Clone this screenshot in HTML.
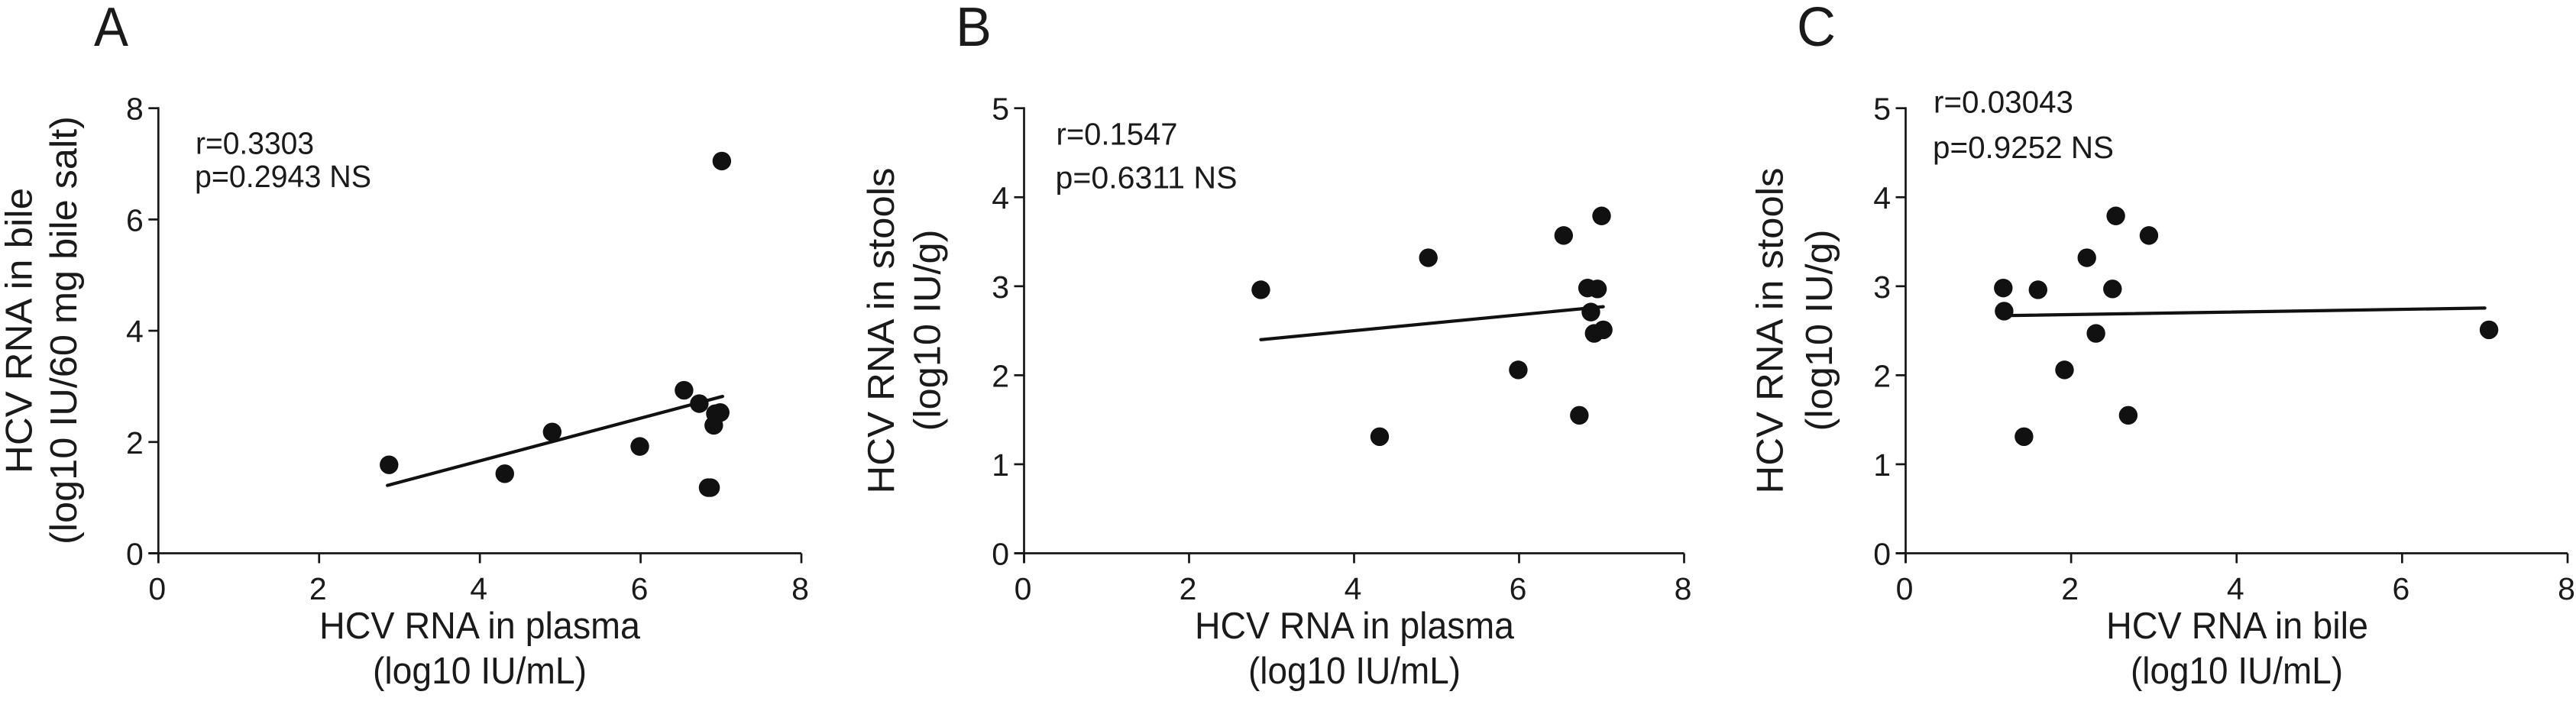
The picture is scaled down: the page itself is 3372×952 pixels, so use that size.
<!DOCTYPE html>
<html lang="en">
<head>
<meta charset="utf-8">
<title>HCV RNA correlations</title>
<style>
html,body{margin:0;padding:0;background:#fff;width:3372px;height:952px;overflow:hidden}
svg{display:block}
text{font-family:"Liberation Sans",Arial,sans-serif;fill:#1a1a1a}
.title{font-size:49px}
.stat{font-size:41px}
.letter{font-size:72px}
.tick{font-size:41px}
</style>
</head>
<body>
<svg id="figure" xmlns="http://www.w3.org/2000/svg" width="3372" height="952" viewBox="0 0 3372 952">
  <rect width="3372" height="952" fill="#ffffff"/>

  <g id="panel-a">
    <text class="letter" x="123" y="60" textLength="45" lengthAdjust="spacingAndGlyphs">A</text>
    <text class="title" transform="translate(41.7,620) rotate(-90)" textLength="374" lengthAdjust="spacingAndGlyphs">HCV RNA in bile</text>
    <text class="title" transform="translate(100,713) rotate(-90)" textLength="561" lengthAdjust="spacingAndGlyphs">(log10 IU/60 mg bile salt)</text>
    <text class="title" x="418" y="836" textLength="420" lengthAdjust="spacingAndGlyphs">HCV RNA in plasma</text>
    <text class="title" x="488" y="895" textLength="280" lengthAdjust="spacingAndGlyphs">(log10 IU/mL)</text>
    <text class="stat" x="256" y="201.7" textLength="155" lengthAdjust="spacingAndGlyphs">r=0.3303</text>
    <text class="stat" x="255" y="245" textLength="231" lengthAdjust="spacingAndGlyphs">p=0.2943 NS</text>
  </g>

  <g id="panel-b">
    <text class="letter" x="1251" y="60" textLength="47" lengthAdjust="spacingAndGlyphs">B</text>
    <text class="title" transform="translate(1170,646.5) rotate(-90)" textLength="427" lengthAdjust="spacingAndGlyphs">HCV RNA in stools</text>
    <text class="title" transform="translate(1230.5,564.5) rotate(-90)" textLength="264" lengthAdjust="spacingAndGlyphs">(log10 IU/g)</text>
    <text class="title" x="1564" y="836" textLength="418" lengthAdjust="spacingAndGlyphs">HCV RNA in plasma</text>
    <text class="title" x="1634" y="895" textLength="278" lengthAdjust="spacingAndGlyphs">(log10 IU/mL)</text>
    <text class="stat" x="1382.5" y="189.5" textLength="159" lengthAdjust="spacingAndGlyphs">r=0.1547</text>
    <text class="stat" x="1381.5" y="246.5" textLength="238" lengthAdjust="spacingAndGlyphs">p=0.6311 NS</text>
  </g>

  <g id="panel-c">
    <text class="letter" x="2352" y="60" textLength="51" lengthAdjust="spacingAndGlyphs">C</text>
    <text class="title" transform="translate(2333.5,646.5) rotate(-90)" textLength="427" lengthAdjust="spacingAndGlyphs">HCV RNA in stools</text>
    <text class="title" transform="translate(2398,564.5) rotate(-90)" textLength="264" lengthAdjust="spacingAndGlyphs">(log10 IU/g)</text>
    <text class="title" x="2757" y="836" textLength="343" lengthAdjust="spacingAndGlyphs">HCV RNA in bile</text>
    <text class="title" x="2789" y="895" textLength="278" lengthAdjust="spacingAndGlyphs">(log10 IU/mL)</text>
    <text class="stat" x="2531" y="147.5" textLength="183" lengthAdjust="spacingAndGlyphs">r=0.03043</text>
    <text class="stat" x="2530" y="207" textLength="237" lengthAdjust="spacingAndGlyphs">p=0.9252 NS</text>
  </g>
</svg>
<script>
// Panel A: plasma vs bile
const aPlasma = [2.87, 4.31, 4.90, 5.99, 6.54, 6.73, 6.91, 6.93, 6.99, 7.01, 6.84, 6.87];
const aBile = [1.59, 1.43, 2.18, 1.92, 2.93, 2.69, 2.30, 2.51, 2.53, 7.05, 1.18, 1.18];
const aTrendX = [2.85, 7.02];
const aTrendY = [1.22, 2.82];
const aXTicks = [0, 2, 4, 6, 8];
const aYTicks = [0, 2, 4, 6, 8];

// Panel B: plasma vs stools
const bPlasma = [2.87, 4.31, 4.90, 5.99, 6.54, 6.73, 6.83, 6.95, 6.87, 6.91, 7.02, 7.00];
const bStools = [2.96, 1.31, 3.32, 2.06, 3.57, 1.55, 2.98, 2.97, 2.71, 2.47, 2.51, 3.79];
const bTrendX = [2.87, 7.02];
const bTrendY = [2.40, 2.77];
const bXTicks = [0, 2, 4, 6, 8];
const bYTicks = [0, 1, 2, 3, 4, 5];

// Panel C: bile vs stools
const cBile = [1.18, 1.60, 1.19, 2.54, 2.94, 2.19, 2.50, 2.30, 1.92, 1.43, 2.69, 7.05];
const cStools = [2.98, 2.96, 2.72, 3.79, 3.57, 3.32, 2.97, 2.47, 2.06, 1.31, 1.55, 2.51];
const cTrendX = [1.20, 7.00];
const cTrendY = [2.67, 2.755];
const cXTicks = [0, 2, 4, 6, 8];
const cYTicks = [0, 1, 2, 3, 4, 5];

const SVG_NS = 'http://www.w3.org/2000/svg';
const INK = '#161616';

function make(parent, tag, attrs) {
  const el = document.createElementNS(SVG_NS, tag);
  for (const k in attrs) el.setAttribute(k, attrs[k]);
  parent.appendChild(el);
  return el;
}

function drawPanel(id, frame, xs, ys, trendX, trendY, xTicks, yTicks) {
  const root = document.getElementById(id);
  const xMax = xTicks[xTicks.length - 1];
  const yMax = yTicks[yTicks.length - 1];
  const sx = v => frame.left + (v / xMax) * (frame.right - frame.left);
  const sy = v => frame.bottom - (v / yMax) * (frame.bottom - frame.top);

  const xAxis = make(root, 'line', {x1: sx(0) - 13, x2: sx(xMax), y1: sy(0), y2: sy(0), stroke: INK, 'stroke-width': 2.7});
  
  
  const yAxis = make(root, 'line', {x1: sx(0), x2: sx(0), y1: sy(0) + 13, y2: sy(yMax) - 1.3, stroke: INK, 'stroke-width': 2.7});
  
  

  xTicks.forEach(function (t) {
    const mark = make(root, 'line', {x1: sx(t), x2: sx(t), y1: sy(0), y2: sy(0) + 13, stroke: INK, 'stroke-width': 2.7});
    
    
    const label = make(root, 'text', {class: 'tick', x: sx(t) - 12.9, y: 785});
    
    
    label.textContent = String(t);
  });

  yTicks.forEach(function (t) {
    const mark = make(root, 'line', {x1: sx(0) - 13, x2: sx(0), y1: sy(t), y2: sy(t), stroke: INK, 'stroke-width': 2.7});
    
    
    const label = make(root, 'text', {class: 'tick', x: sx(0) - 42.3, y: sy(t) + 15});
    
    
    label.textContent = String(t);
  });

  const trend = make(root, 'line', {x1: sx(trendX[0]), y1: sy(trendY[0]), x2: sx(trendX[1]), y2: sy(trendY[1]), stroke: '#111', 'stroke-width': 4.2, 'stroke-linecap': 'round'});
  
  

  xs.forEach(function (x, i) {
    const dot = make(root, 'circle', {cx: sx(x), cy: sy(ys[i]), r: 12.2, fill: '#111'});
    
    
  });
}

drawPanel('panel-a', {left: 207.3, right: 1049, top: 141.7, bottom: 724.5}, aPlasma, aBile, aTrendX, aTrendY, aXTicks, aYTicks);
drawPanel('panel-b', {left: 1340.5, right: 2204.5, top: 141.7, bottom: 724.5}, bPlasma, bStools, bTrendX, bTrendY, bXTicks, bYTicks);
drawPanel('panel-c', {left: 2494.5, right: 3361, top: 141.7, bottom: 724.5}, cBile, cStools, cTrendX, cTrendY, cXTicks, cYTicks);
</script>
</body>
</html>
